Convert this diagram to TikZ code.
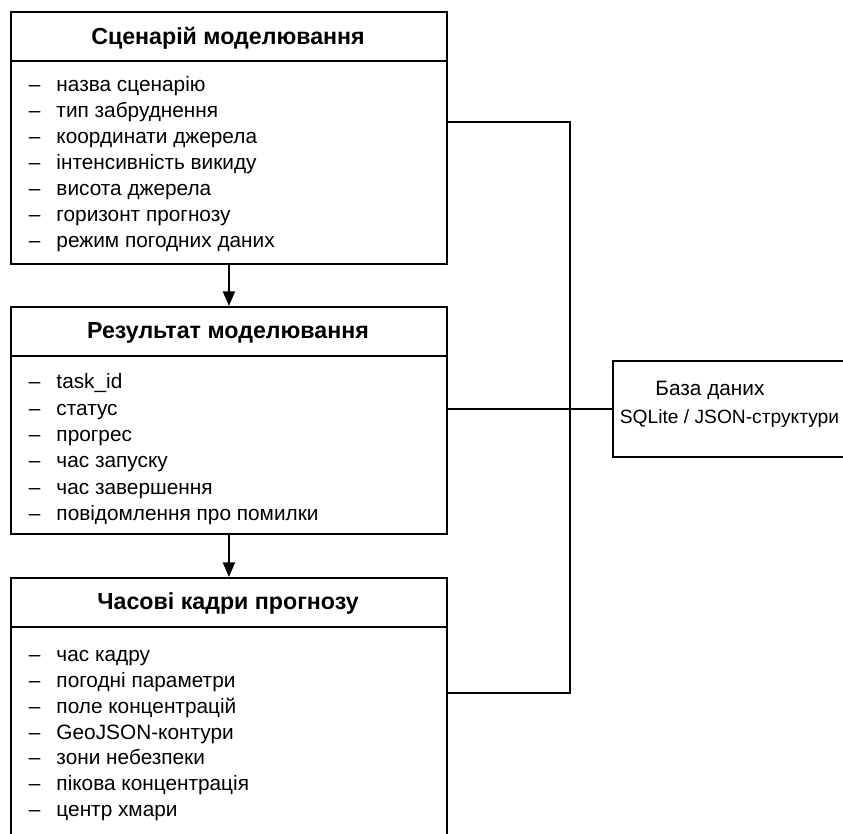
\documentclass[tikz,border=0pt]{standalone}
\usepackage{fontspec}
\setmainfont{Liberation Sans}
\usetikzlibrary{arrows.meta, positioning}

\begin{document}
\begin{tikzpicture}[
      x=0.75pt, y=-0.75pt,
      >={Triangle[length=11pt, width=9pt]},
      line width=1.4pt,
      entity/.style={
        rectangle, draw, anchor=north west, inner sep=0pt,
        minimum width=327pt
      },
      title/.style={font=\fontsize{17.4}{20}\selectfont\bfseries},
      item/.style={
        anchor=west, inner sep=0pt, text height=12pt, text depth=3.5pt,
        font=\fontsize{15.6}{18}\selectfont
      },
      dbbox/.style={rectangle, draw, anchor=north west, inner sep=0pt,
        minimum width=230pt, minimum height=72pt}
    ]
    \useasboundingbox (0,0) rectangle (843,834);
    \clip (0,0) rectangle (843,834);

    % entities
    \node[entity, minimum height=189pt] (scen) at (10,11) {};
    \node[entity, minimum height=170.25pt] (res) at (10,306) {};
    \node[entity, minimum height=194.25pt] (frm) at (10,577) {};
    \node[dbbox] (db) at (612,360) {};

    % header lines
    \draw (10,61) -- (446,61);
    \draw (10,356) -- (446,356);
    \draw (10,627) -- (446,627);

    \node[title] (scent) at (228,38) {Сценарій моделювання};
    \node[title] (rest) at (228,333) {Результат моделювання};
    \node[title] (frmt) at (228,604) {Часові кадри прогнозу};

    \foreach \t [count=\i from 0] in {назва сценарію, тип забруднення,
        координати джерела, інтенсивність викиду, висота джерела,
        горизонт прогнозу, режим погодних даних}
      \node[item] (s\i) at (28,86+26*\i) {–\hspace{12pt}\t};
    \foreach \t [count=\i from 0] in {task\_id, статус, прогрес,
        час запуску, час завершення, повідомлення про помилки}
      \node[item] (r\i) at (28,383+26.4*\i) {–\hspace{12pt}\t};
    \foreach \t [count=\i from 0] in {час кадру, погодні параметри,
        поле концентрацій, GeoJSON-контури, зони небезпеки,
        пікова концентрація, центр хмари}
      \node[item] (f\i) at (28,656+25.8*\i) {–\hspace{12pt}\t};

    \node[item, anchor=center] (dbt1) at (710,390) {База даних};
    \node[item, font=\fontsize{14.4}{17}\selectfont] (dbt2) at (619,418)
      {SQLite / JSON-структури};

    % links
    \coordinate (bus) at (570,407);
    \draw (scen.east |- 0,122) -| (bus) |- (frm.east |- 0,693);
    \draw (res.east |- db.west) -- (db.west);

    \foreach \a/\b in {scen/res, res/frm}
      \draw[->] (\a) -- (\b);
  \end{tikzpicture}
\end{document}
